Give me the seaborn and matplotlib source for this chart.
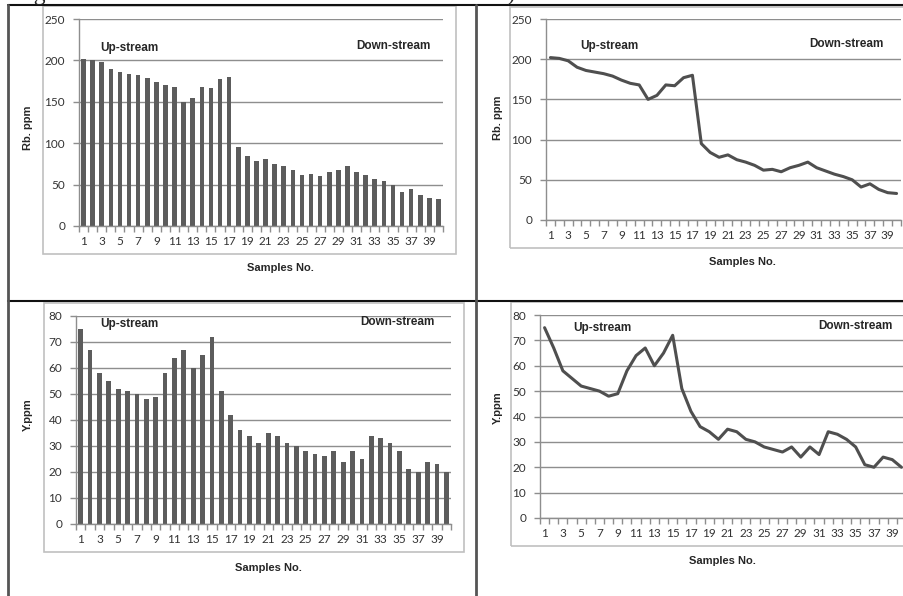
import numpy as np
import pandas as pd
import matplotlib
matplotlib.use("Agg")
import matplotlib.pyplot as plt
from matplotlib.lines import Line2D
from matplotlib.patches import Rectangle
import seaborn as sns

# Sample numbers along the stream (1 = up-stream, 40 = down-stream)
samples = list(range(1, 41))

# Rubidium concentrations (ppm)
rb_ppm = [202, 201, 198, 190, 186, 184, 182, 179, 174, 170,
          168, 150, 155, 168, 167, 177, 180, 95, 84, 78,
          81, 75, 72, 68, 62, 63, 60, 65, 68, 72,
          65, 61, 57, 54, 50, 41, 45, 38, 34, 33]

# Yttrium concentrations (ppm)
y_ppm = [75, 67, 58, 55, 52, 51, 50, 48, 49, 58,
         64, 67, 60, 65, 72, 51, 42, 36, 34, 31,
         35, 34, 31, 30, 28, 27, 26, 28, 24, 28,
         25, 34, 33, 31, 28, 21, 20, 24, 23, 20]

rb_ticks = [0, 50, 100, 150, 200, 250]
y_ticks = [0, 10, 20, 30, 40, 50, 60, 70, 80]
x_tick_labels = [str(s) for s in samples[::2]]

df = pd.DataFrame({"sample": samples, "rb": rb_ppm, "y": y_ppm})

sns.set_theme(style="white")
plt.rcParams["font.family"] = ["Liberation Sans", "DejaVu Sans"]

W, H = 904, 596
fig = plt.figure(figsize=(W / 100, H / 100), dpi=100)
fig.patch.set_facecolor("white")

BAR_C = "#5c5c5c"
LINE_C = "#4f4f4f"
GRID_C = "#8e8e8e"
FRAME_C = "#c0c0c0"
TICK_FONT = ["Lato", "DejaVu Sans"]


def fx(x):
    return x / W


def fy(y):
    return 1 - y / H


def make_axes(x0, y0, x1, y1):
    return fig.add_axes([fx(x0), fy(y1), fx(x1 - x0), (y1 - y0) / H])


def frame(x0, y0, x1, y1):
    fig.add_artist(Rectangle((fx(x0), fy(y1)), fx(x1 - x0), (y1 - y0) / H,
                             transform=fig.transFigure, fill=False,
                             edgecolor=FRAME_C, lw=1.2, zorder=0))


def style_axes(ax, yticks, ylabel, xlab_pos, ylab_pos, up_pos, down_pos):
    ax.set_xlim(0.5, 40.5)
    ax.set_ylim(yticks[0], yticks[-1])
    ax.set_yticks(yticks)
    ax.set_yticklabels([str(t) for t in yticks], family=TICK_FONT,
                       fontsize=8.5, color="#333333")
    ax.set_xticks(samples[::2])
    ax.set_xticklabels(x_tick_labels, family=TICK_FONT, fontsize=8.5,
                       color="#333333")
    ax.set_xticks(np.arange(0.5, 41, 1), minor=True)
    ax.tick_params(axis="x", which="major", length=0, pad=7)
    ax.tick_params(axis="x", which="minor", length=4, color=GRID_C,
                   width=1, direction="out", bottom=True)
    ax.tick_params(axis="y", which="major", length=4, color=GRID_C,
                   width=1, direction="out", left=True, pad=6)
    ax.grid(axis="y", color=GRID_C, lw=1)
    ax.set_axisbelow(True)
    for side in ("top", "right"):
        ax.spines[side].set_visible(False)
    for side in ("left", "bottom"):
        ax.spines[side].set_color(GRID_C)
        ax.spines[side].set_linewidth(1)
    ax.set_xlabel("")
    ax.set_ylabel("")
    ax.set_facecolor("none")
    fig.text(fx(xlab_pos[0]), fy(xlab_pos[1]), "Samples No.", ha="center",
             va="center", fontsize=8, fontweight="bold")
    fig.text(fx(ylab_pos[0]), fy(ylab_pos[1]), ylabel, ha="center",
             va="center", rotation=90, fontsize=8, fontweight="bold")
    fig.text(fx(up_pos[0]), fy(up_pos[1]), "Up-stream", ha="left",
             va="center", fontsize=8.5, fontweight="bold")
    fig.text(fx(down_pos[0]), fy(down_pos[1]), "Down-stream", ha="right",
             va="center", fontsize=8.5, fontweight="bold")


# chart frames
frame(43, 6, 456, 254)
frame(510, 7, 910, 248)
frame(44, 303, 464, 552)
frame(511, 302, 910, 546)

# Rb bar chart
ax1 = make_axes(79, 19, 443, 226)
sns.barplot(data=df, x="sample", y="rb", native_scale=True, width=0.5,
            color=BAR_C, saturation=1, edgecolor="none", ax=ax1)
style_axes(ax1, rb_ticks, "Rb. ppm", (280, 268), (28, 128), (100, 48), (431, 46))

# Rb line chart
ax2 = make_axes(546, 19, 901, 220)
sns.lineplot(data=df, x="sample", y="rb", color=LINE_C, lw=2.2, ax=ax2)
style_axes(ax2, rb_ticks, "Rb. ppm", (742, 262), (498, 118), (580, 46), (884, 44))

# Y bar chart
ax3 = make_axes(76, 316, 451, 524)
sns.barplot(data=df, x="sample", y="y", native_scale=True, width=0.5,
            color=BAR_C, saturation=1, edgecolor="none", ax=ax3)
style_axes(ax3, y_ticks, "Y.ppm", (268, 568), (28, 415), (100, 324), (435, 322))

# Y line chart
ax4 = make_axes(540, 315, 906, 518)
sns.lineplot(data=df, x="sample", y="y", color=LINE_C, lw=2.2, ax=ax4)
style_axes(ax4, y_ticks, "Y.ppm", (722, 561), (498, 408), (573, 328), (893, 326))

# table rules
fig.add_artist(Line2D([fx(8), fx(904)], [fy(5), fy(5)], color="#111111",
                      lw=1.5, transform=fig.transFigure))
fig.add_artist(Line2D([fx(8), fx(904)], [fy(301), fy(301)], color="#111111",
                      lw=1.5, transform=fig.transFigure))
fig.add_artist(Line2D([fx(8), fx(8)], [fy(5), fy(596)], color="#555555",
                      lw=2, transform=fig.transFigure))
fig.add_artist(Line2D([fx(476), fx(476)], [fy(5), fy(596)], color="#555555",
                      lw=2, transform=fig.transFigure))

# caption line sitting just above the table top edge
fig.text(fx(14), 1.0, "Figure 5: Rb and Y contents in the stream sediments)",
         ha="left", va="baseline", fontsize=17,
         family=["Liberation Serif", "DejaVu Serif"])

fig.savefig("out.png", dpi=100, facecolor="white")
